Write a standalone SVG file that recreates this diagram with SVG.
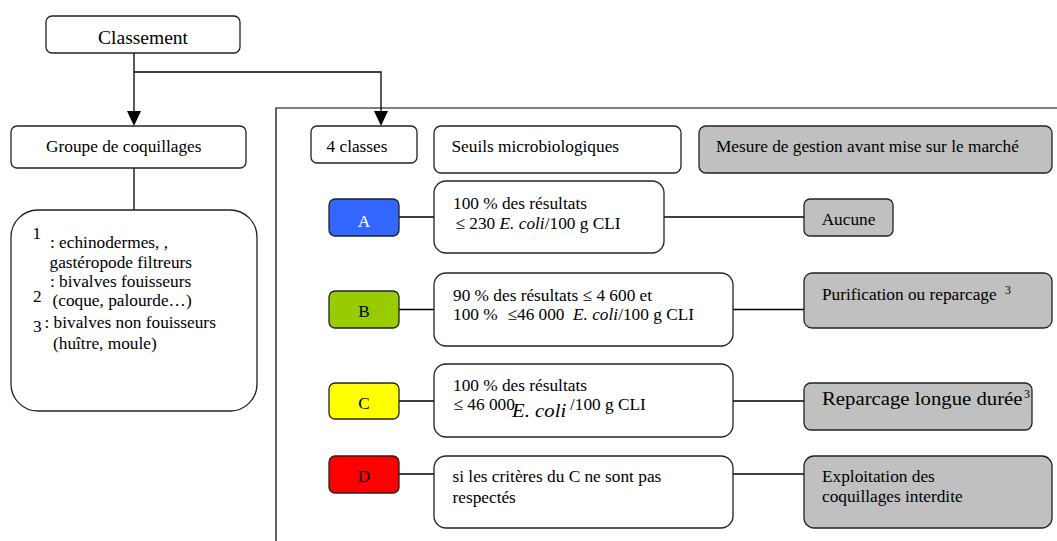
<svg xmlns="http://www.w3.org/2000/svg" width="1057" height="541" viewBox="0 0 1057 541">
<style>
text{font-family:"Liberation Serif","Times New Roman",serif;font-size:17.3px;fill:#000}
.big{font-size:19.5px}
.box{fill:#fff;stroke:#222;stroke-width:1.3}
.gray{fill:#c0c0c0;stroke:#222;stroke-width:1.3}
.ln{stroke:#000;stroke-width:1.3;fill:none}
.mid{text-anchor:middle}
.sup{font-size:12px}
</style>
<rect x="0" y="0" width="1057" height="541" fill="#fff"/>
<g id="connectors">
<path class="ln" d="M134,53 V112"/>
<polygon points="127,111 141,111 134,126" fill="#000"/>
<path class="ln" d="M134,72 H381 V112"/>
<polygon points="374,111 388,111 381,126" fill="#000"/>
<path class="ln" d="M134,168 V210"/>
<path class="ln" d="M399,217 H434 M664,217 H804"/>
<path class="ln" d="M399,309.5 H434 M733,309.5 H804"/>
<path class="ln" d="M399,401 H434 M733,401 H804"/>
<path class="ln" d="M399,474 H434 M733,474 H804"/>
</g>
<g id="frame">
<path d="M276,541 V108 H1057" fill="none" stroke="#000" stroke-width="1.2"/>
</g>
<g id="classement">
<rect class="box" x="46" y="16" width="194" height="37" rx="6"/>
<text class="big mid" x="143" y="44">Classement</text>
</g>
<g id="groupe">
<rect class="box" x="11" y="126" width="235" height="42" rx="6"/>
<text x="46" y="152">Groupe de coquillages</text>
</g>
<g id="groupe-liste">
<rect class="box" x="11" y="210" width="246" height="201" rx="27"/>
<text x="32.5" y="239">1</text>
<text x="50" y="248">: echinodermes,  ,</text>
<text x="49.5" y="268">gastéropode filtreurs</text>
<text x="50" y="287">: bivalves fouisseurs</text>
<text x="33" y="301.5">2</text>
<text x="52.5" y="306">(coque, palourde…)</text>
<text x="33" y="331.5">3</text>
<text x="44.5" y="328">: bivalves non fouisseurs</text>
<text x="53" y="349">(huître, moule)</text>
</g>
<g id="quatre-classes">
<rect class="box" x="311" y="126" width="106" height="37" rx="6"/>
<text x="326.5" y="151.5">4 classes</text>
</g>
<g id="seuils">
<rect class="box" x="434" y="126" width="247" height="47" rx="7"/>
<text x="451.5" y="151.5">Seuils microbiologiques</text>
</g>
<g id="mesure">
<rect class="gray" x="699" y="126" width="353" height="47" rx="7"/>
<text x="716" y="151.5">Mesure de gestion avant mise sur le marché</text>
</g>
<g id="classe-a">
<rect x="329" y="199" width="70" height="37" rx="6" fill="#3366ff" stroke="#222" stroke-width="1.3"/>
<text class="mid" x="364" y="226.5" style="fill:#fff">A</text>
</g>
<g id="seuil-a">
<rect class="box" x="434" y="181" width="230" height="72" rx="12"/>
<text x="453" y="208.5">100 % des résultats</text>
<text x="455.5" y="228.5">≤ 230 <tspan font-style="italic">E. coli</tspan>/100 g CLI</text>
</g>
<g id="mesure-a">
<rect class="gray" x="804" y="199" width="89" height="37" rx="6"/>
<text class="mid" x="848.5" y="225">Aucune</text>
</g>
<g id="classe-b">
<rect x="329" y="291" width="70" height="37" rx="6" fill="#99cc00" stroke="#222" stroke-width="1.3"/>
<text class="mid" x="364" y="316.5">B</text>
</g>
<g id="seuil-b">
<rect class="box" x="434" y="273" width="299" height="73" rx="12"/>
<text x="453" y="300.5">90 % des résultats ≤ 4 600 et</text>
<text x="453" y="320">100 %<tspan x="507.5">≤46 000</tspan><tspan x="573" font-style="italic">E. coli</tspan>/100 g CLI</text>
</g>
<g id="mesure-b">
<rect class="gray" x="804" y="273" width="248" height="55" rx="8"/>
<text x="822" y="300">Purification ou reparcage<tspan class="sup" x="1005" y="294">3</tspan></text>
</g>
<g id="classe-c">
<rect x="329" y="383" width="70" height="36" rx="6" fill="#ffff00" stroke="#222" stroke-width="1.3"/>
<text class="mid" x="364" y="409">C</text>
</g>
<g id="seuil-c">
<rect class="box" x="434" y="364" width="299" height="73" rx="12"/>
<text x="453" y="391">100 % des résultats</text>
<text x="453.5" y="410">≤ 46 000</text>
<text transform="translate(512,416.5) scale(1.2,1.05)" x="0" y="0" font-style="italic">E. coli</text>
<text x="570" y="410">/100 g CLI</text>
</g>
<g id="mesure-c">
<rect class="gray" x="804" y="383" width="228" height="47" rx="7"/>
<text transform="translate(822,405) scale(1.2,1.05)" x="0" y="0">Reparcage longue durée</text>
<text class="sup" x="1024" y="397.5">3</text>
</g>
<g id="classe-d">
<rect x="329" y="456" width="70" height="37" rx="6" fill="#ff0000" stroke="#222" stroke-width="1.3"/>
<text class="mid" x="364" y="482">D</text>
</g>
<g id="seuil-d">
<rect class="box" x="434" y="456" width="299" height="72" rx="12"/>
<text x="452.5" y="482">si les critères du C ne sont pas</text>
<text x="452.5" y="503">respectés</text>
</g>
<g id="mesure-d">
<rect class="gray" x="804" y="456" width="248" height="72" rx="10"/>
<text x="822" y="482">Exploitation des</text>
<text x="822" y="502">coquillages interdite</text>
</g>
</svg>
